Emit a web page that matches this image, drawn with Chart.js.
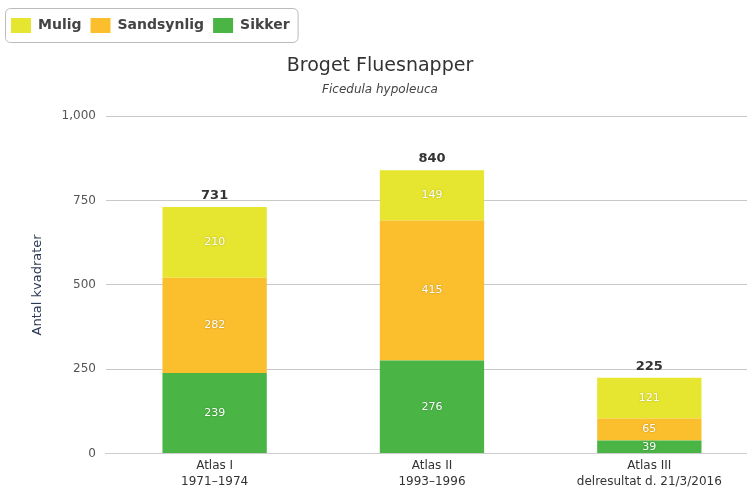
<!DOCTYPE html>
<html>
<head>
<meta charset="utf-8">
<script src="https://cdn.jsdelivr.net/npm/chart.js@4"></script>
<style>
  html, body { margin: 0; padding: 0; background: #fff; overflow: hidden; }
  #wrap { width: 747px; height: 494px; overflow: hidden; }
</style>
</head>
<body>
<div id="wrap"><canvas id="myChart" width="758" height="494"></canvas></div>
<script>
var atlas = [['Atlas I', '1971\u20131974'], ['Atlas II', '1993\u20131996'], ['Atlas III', 'delresultat d. 21/3/2016']];
var sikker = [239, 276, 39];
var sandsynlig = [282, 415, 65];
var mulig = [210, 149, 121];
var yTicks = [0, 250, 500, 750, 1000];

var fontFam = '"DejaVu Sans", Verdana, sans-serif';

// totals above each stack + white numbers inside the segments
var labelsPlugin = {
    id: 'labelsPlugin',
    afterDatasetsDraw: function(chart) {
        var ctx = chart.ctx;
        ctx.save();
        ctx.textAlign = 'center';
        ctx.textBaseline = 'middle';
        chart.data.datasets.forEach(function(ds, i) {
            var meta = chart.getDatasetMeta(i);
            meta.data.forEach(function(bar, j) {
                var mid = (bar.y + bar.base) / 2;
                ctx.font = '11px ' + fontFam;
                ctx.shadowColor = 'rgba(0,0,0,0.3)';
                ctx.shadowBlur = 2;
                ctx.fillStyle = '#fff';
                ctx.fillText(ds.data[j], bar.x, mid);
            });
        });
        ctx.shadowBlur = 0;
        var top = chart.getDatasetMeta(chart.data.datasets.length - 1);
        top.data.forEach(function(bar, j) {
            var tot = 0;
            chart.data.datasets.forEach(function(ds) { tot += ds.data[j]; });
            ctx.font = '600 13px ' + fontFam;
            ctx.fillStyle = '#333';
            ctx.textBaseline = 'bottom';
            ctx.fillText(tot, bar.x, bar.y - 5);
        });
        ctx.restore();
    },
    afterDraw: function(chart) {
        // frame round the legend
        var lg = chart.legend;
        var ctx = chart.ctx;
        var w = 0;
        lg.legendHitBoxes.forEach(function(h) { w = Math.max(w, h.left + h.width); });
        var x = 5, y = 8, bw = w - x + 8, bh = 34;
        ctx.save();
        ctx.strokeStyle = '#bbb';
        ctx.lineWidth = 1;
        ctx.beginPath();
        ctx.roundRect(x + 0.5, y + 0.5, bw, bh, 5);
        ctx.stroke();
        ctx.restore();
    }
};

var ctx = document.getElementById('myChart').getContext('2d');
var chart = new Chart(ctx, {
    type: 'bar',
    data: {
        labels: atlas,
        datasets: [
            { label: 'Sikker', data: sikker, backgroundColor: '#4ab544' },
            { label: 'Sandsynlig', data: sandsynlig, backgroundColor: '#fbbf2d' },
            { label: 'Mulig', data: mulig, backgroundColor: '#e6e630' }
        ]
    },
    options: {
        responsive: false,
        animation: false,
        layout: { padding: { left: 2, right: 0, top: 9, bottom: 0 } },
        datasets: { bar: { categoryPercentage: 1, barPercentage: 0.48, borderWidth: 0 } },
        plugins: {
            legend: {
                position: 'top',
                align: 'start',
                reverse: true,
                weight: 3000,
                labels: {
                    boxWidth: 20, boxHeight: 15, padding: 9,
                    color: '#444',
                    font: { family: fontFam, size: 14, weight: 'bold' }
                }
            },
            title: {
                display: true,
                text: 'Broget Fluesnapper',
                color: '#333',
                font: { family: fontFam, size: 19, weight: 'normal' },
                padding: { top: 12, bottom: 5 }
            },
            subtitle: {
                display: true,
                text: 'Ficedula hypoleuca',
                color: '#444',
                font: { family: fontFam, size: 12, style: 'italic' },
                padding: { top: 0, bottom: 19 }
            },
            tooltip: { enabled: false }
        },
        scales: {
            x: {
                stacked: true,
                grid: { display: false, drawTicks: false },
                border: { color: '#ccc' },
                ticks: { color: '#333', font: { family: fontFam, size: 12, lineHeight: 1.35 }, maxRotation: 0, padding: 4 }
            },
            y: {
                stacked: true,
                min: 0,
                max: 1000,
                afterBuildTicks: function(axis) {
                    axis.ticks = yTicks.map(function(v) { return { value: v }; });
                },
                grid: { color: '#c8c8c8', drawTicks: false },
                border: { display: false },
                ticks: { color: '#555', font: { family: fontFam, size: 12 }, padding: 10 },
                title: {
                    display: true,
                    text: 'Antal kvadrater',
                    color: '#2d3a55',
                    font: { family: fontFam, size: 13 },
                    padding: { top: 28, bottom: 6 }
                }
            }
        }
    },
    plugins: [labelsPlugin]
});
</script>
</body>
</html>
